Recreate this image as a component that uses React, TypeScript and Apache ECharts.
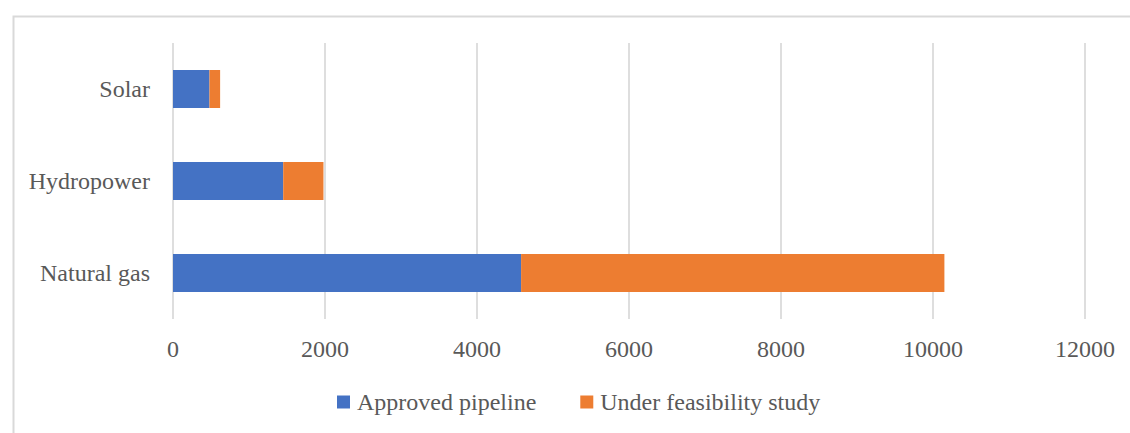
import React, { useEffect, useRef } from "react";
import * as echarts from "echarts";

// Capacity pipeline by technology (MW)
const categories = ["Natural gas", "Hydropower", "Solar"];
const approvedPipeline = [4580, 1450, 480];
const underFeasibility = [5570, 530, 140];
const seriesNames = ["Approved pipeline", "Under feasibility study"];

const FONT = "'Liberation Serif', 'Times New Roman', serif";
const TEXT = "#595959";

export default function App() {
  const ref = useRef<HTMLDivElement>(null);

  useEffect(() => {
    document.body.style.margin = "0";
    const chart = echarts.init(ref.current!, null, { renderer: "svg" });
    chart.setOption({
      animation: false,
      backgroundColor: "#ffffff",
      textStyle: { fontFamily: FONT, color: TEXT },
      graphic: [
        {
          type: "rect",
          left: 11,
          top: 14,
          shape: { width: 1200, height: 500 },
          style: { fill: "none", stroke: "#d9d9d9", lineWidth: 2 },
          silent: true,
          z: -1,
        },
      ],
      grid: { left: 173, right: 45, top: 43, bottom: 114, containLabel: false },
      legend: {
        left: 337,
        top: 390,
        padding: 0,
        itemWidth: 13,
        itemHeight: 13,
        itemGap: 44,
        icon: "rect",
        data: seriesNames,
        textStyle: { fontFamily: FONT, fontSize: 24, color: TEXT, padding: [0, 0, 0, 2] },
      },
      xAxis: {
        type: "value",
        min: 0,
        max: 12000,
        interval: 2000,
        axisLine: { show: false },
        axisTick: { show: false },
        axisLabel: {
          fontFamily: FONT,
          fontSize: 24,
          color: TEXT,
          margin: 18,
          formatter: (v: number) => String(v),
        },
        splitLine: { show: true, lineStyle: { color: "#dedede", width: 2 } },
      },
      yAxis: {
        type: "category",
        data: categories,
        axisLine: { show: false },
        axisTick: { show: false },
        axisLabel: { fontFamily: FONT, fontSize: 24, color: TEXT, margin: 23 },
        splitLine: { show: false },
      },
      series: [
        {
          name: seriesNames[0],
          type: "bar",
          stack: "total",
          data: approvedPipeline,
          barCategoryGap: "58.7%",
          itemStyle: { color: "#4472C4" },
        },
        {
          name: seriesNames[1],
          type: "bar",
          stack: "total",
          data: underFeasibility,
          barCategoryGap: "58.7%",
          itemStyle: { color: "#ED7D31" },
        },
      ],
    });
    return () => chart.dispose();
  }, []);

  return <div ref={ref} style={{ width: 1130, height: 433 }} />;
}
